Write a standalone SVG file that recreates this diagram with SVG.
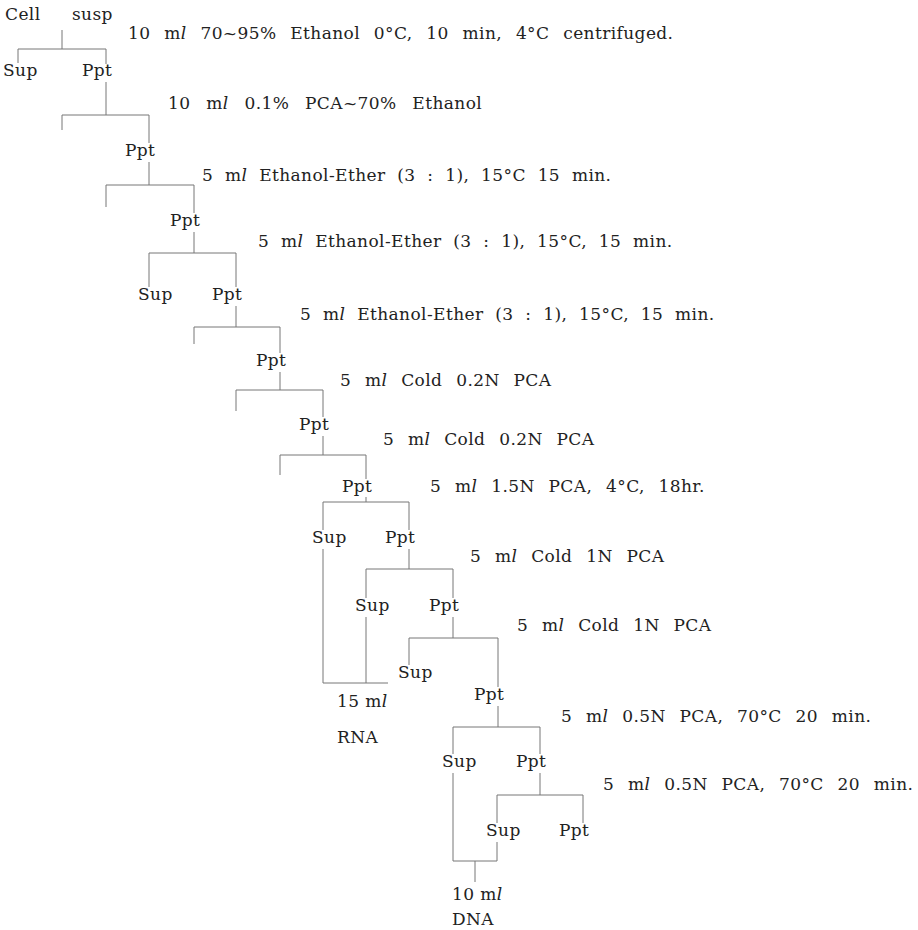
<svg xmlns="http://www.w3.org/2000/svg" width="918" height="930" viewBox="0 0 918 930" font-family="DejaVu Serif, Liberation Serif, serif">
<style>
text{font-size:17px;letter-spacing:0.4px;fill:#222}
.i{font-style:italic}
.s text{word-spacing:8px}
.s text.e{word-spacing:6px}
.c path{stroke:#777;stroke-width:1;fill:none}
</style>
<rect width="918" height="930" fill="#fff"/>
<g class="c" id="connectors">
<path d="M62 30V49M18 63V49H106V64"/>
<path d="M106 82V115M62 130V115H149V143"/>
<path d="M149 162V185M106 207V185H194V213"/>
<path d="M194 232V253M149 287V253H236V287"/>
<path d="M236 306V327M194 344V327H280V353"/>
<path d="M280 372V390M236 411V390H323V417"/>
<path d="M323 436V455M280 475V455H366V479"/>
<path d="M366 497V502M323 530V502H409V530"/>
<path d="M409 549V569M366 598V569H453V598"/>
<path d="M453 617V638M409 665V638H498V687"/>
<path d="M498 706V727M453 754V727H540V754"/>
<path d="M540 773V795M497 823V795H583V823"/>
<path d="M323 549V683H388M366 617V683"/>
<path d="M453 773V861H497V842M475 861V882"/>
</g>
<g id="cell"><text x="5" y="20">Cell</text><text x="72" y="20">susp</text></g>
<g id="sup0"><text x="3" y="76">Sup</text></g>
<g id="ppt0"><text x="82" y="76">Ppt</text></g>
<g id="ppt1"><text x="125" y="156">Ppt</text></g>
<g id="ppt2"><text x="170" y="226">Ppt</text></g>
<g id="sup3"><text x="138" y="300">Sup</text></g>
<g id="ppt3"><text x="212" y="300">Ppt</text></g>
<g id="ppt4"><text x="256" y="366">Ppt</text></g>
<g id="ppt5"><text x="299" y="430">Ppt</text></g>
<g id="ppt6"><text x="342" y="492">Ppt</text></g>
<g id="sup7"><text x="312" y="543">Sup</text></g>
<g id="ppt7"><text x="385" y="543">Ppt</text></g>
<g id="sup8"><text x="355" y="611">Sup</text></g>
<g id="ppt8"><text x="429" y="611">Ppt</text></g>
<g id="sup9"><text x="398" y="678">Sup</text></g>
<g id="ppt9"><text x="474" y="700">Ppt</text></g>
<g id="rna"><text x="337" y="707">15 m<tspan class="i">l</tspan></text><text x="337" y="743">RNA</text></g>
<g id="sup10"><text x="442" y="767">Sup</text></g>
<g id="ppt10"><text x="516" y="767">Ppt</text></g>
<g id="sup11"><text x="486" y="836">Sup</text></g>
<g id="ppt11"><text x="559" y="836">Ppt</text></g>
<g id="dna"><text x="452" y="900">10 m<tspan class="i">l</tspan></text><text x="452" y="925">DNA</text></g>
<g id="steps" class="s">
<text x="128" y="39">10 m<tspan class="i">l</tspan> 70~95% Ethanol 0°C, 10 min, 4°C centrifuged.</text>
<text x="168" y="109" style="word-spacing:10px">10 m<tspan class="i">l</tspan> 0.1% PCA~70% Ethanol</text>
<text class="e" x="202" y="181">5 m<tspan class="i">l</tspan> Ethanol-Ether (3 : 1), 15°C 15 min.</text>
<text class="e" x="258" y="247">5 m<tspan class="i">l</tspan> Ethanol-Ether (3 : 1), 15°C, 15 min.</text>
<text class="e" x="300" y="320">5 m<tspan class="i">l</tspan> Ethanol-Ether (3 : 1), 15°C, 15 min.</text>
<text x="340" y="386">5 m<tspan class="i">l</tspan> Cold 0.2N PCA</text>
<text x="383" y="445">5 m<tspan class="i">l</tspan> Cold 0.2N PCA</text>
<text x="430" y="492">5 m<tspan class="i">l</tspan> 1.5N PCA, 4°C, 18hr.</text>
<text x="470" y="562">5 m<tspan class="i">l</tspan> Cold 1N PCA</text>
<text x="517" y="631">5 m<tspan class="i">l</tspan> Cold 1N PCA</text>
<text x="561" y="722">5 m<tspan class="i">l</tspan> 0.5N PCA, 70°C 20 min.</text>
<text x="603" y="790">5 m<tspan class="i">l</tspan> 0.5N PCA, 70°C 20 min.</text>
</g>
</svg>
